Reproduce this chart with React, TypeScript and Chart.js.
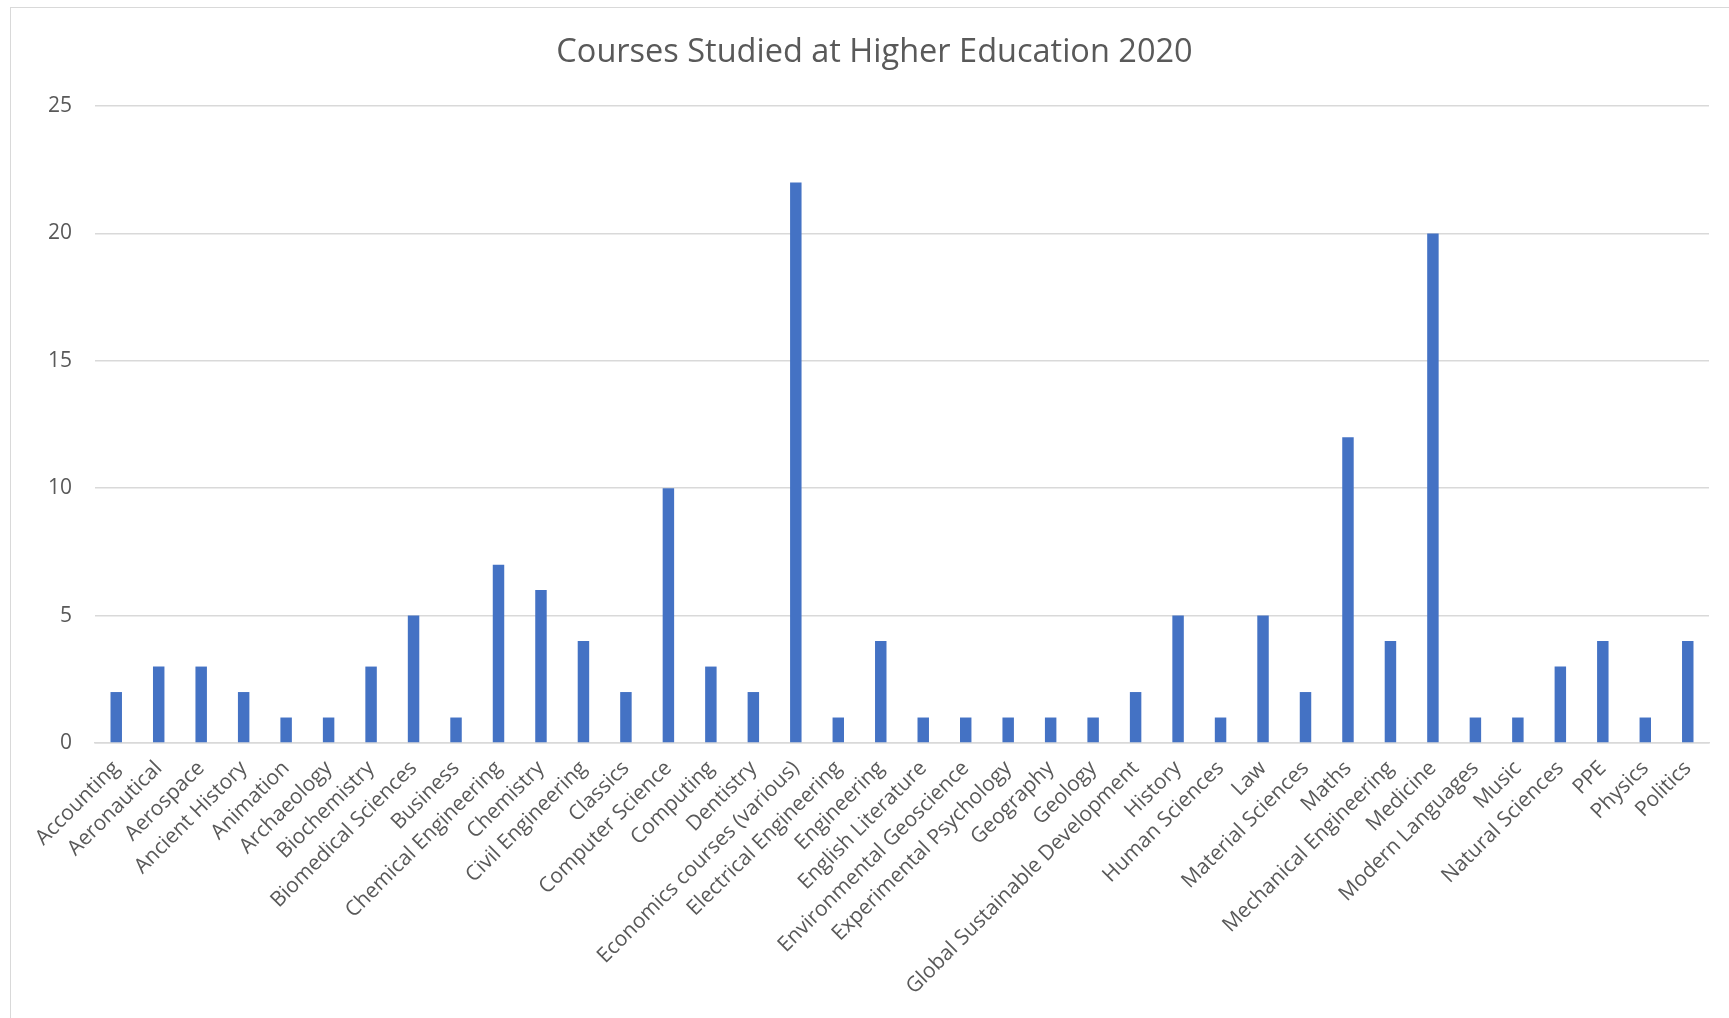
import React, { useEffect, useRef } from "react";
import { Chart, registerables } from "chart.js";

Chart.register(...registerables);

const categories: string[] = [
  "Accounting",
  "Aeronautical",
  "Aerospace",
  "Ancient History",
  "Animation",
  "Archaeology",
  "Biochemistry",
  "Biomedical Sciences",
  "Business",
  "Chemical Engineering",
  "Chemistry",
  "Civil Engineering",
  "Classics",
  "Computer Science",
  "Computing",
  "Dentistry",
  "Economics courses (various)",
  "Electrical Engineering",
  "Engineering",
  "English Literature",
  "Environmental Geoscience",
  "Experimental Psychology",
  "Geography",
  "Geology",
  "Global Sustainable Development",
  "History",
  "Human Sciences",
  "Law",
  "Material Sciences",
  "Maths",
  "Mechanical Engineering",
  "Medicine",
  "Modern Languages",
  "Music",
  "Natural Sciences",
  "PPE",
  "Physics",
  "Politics",
];

const counts: number[] = [
  2, 3, 3, 2, 1, 1, 3, 5, 1, 7, 6, 4, 2, 10, 3, 2, 22, 1, 4, 1, 1, 1, 1, 1, 2, 5,
  1, 5, 2, 12, 4, 20, 1, 1, 3, 4, 1, 4,
];

const titleText = "Courses Studied at Higher Education 2020";
const yMin = 0;
const yMax = 25;
const yStep = 5;

const W = 1729;
const H = 1018;

export default function App() {
  const ref = useRef<HTMLCanvasElement | null>(null);

  useEffect(() => {
    const canvas = ref.current;
    if (!canvas) return;
    const textColor = "#595959";
    const font = "'Open Sans', 'Noto Sans', sans-serif";
    const chart = new Chart(canvas, {
      type: "bar",
      data: {
        labels: categories,
        datasets: [
          {
            label: "Courses",
            data: counts,
            backgroundColor: "#4472C4",
            borderWidth: 0,
            barPercentage: 0.27,
            categoryPercentage: 1,
          },
        ],
      },
      options: {
        responsive: false,
        animation: false,
        devicePixelRatio: 1,
        layout: { padding: { left: 40, right: 20, top: 0, bottom: 0 } },
        plugins: {
          legend: { display: false },
          tooltip: { enabled: false },
          title: {
            display: true,
            text: titleText,
            color: textColor,
            font: { family: font, size: 32.5, weight: "normal", lineHeight: 1.2 },
            padding: { top: 33, bottom: 34 },
          },
        },
        scales: {
          x: {
            grid: { display: false, drawTicks: false },
            border: { display: true, color: "#d9d9d9", width: 1.5 },
            ticks: {
              color: textColor,
              font: { family: font, size: 21 },
              minRotation: 45,
              maxRotation: 45,
              autoSkip: false,
              padding: 13,
            },
            afterFit: (scale: any) => {
              scale.height = 275;
            },
          },
          y: {
            min: yMin,
            max: yMax,
            grid: { color: "#d9d9d9", lineWidth: 1.5, drawTicks: false },
            border: { display: false },
            ticks: {
              stepSize: yStep,
              color: textColor,
              font: { family: font, size: 21 },
              padding: 23,
            },
            afterFit: (scale: any) => {
              scale.width = 55;
            },
          },
        },
      },
    });
    return () => chart.destroy();
  }, []);

  return (
    <div
      style={{
        position: "fixed",
        left: 0,
        top: 0,
        width: W,
        height: H,
        overflow: "hidden",
        background: "#ffffff",
      }}
    >
      <div
        style={{
          position: "absolute",
          left: 10,
          top: 7,
          width: W + 100,
          height: H + 100,
          border: "1.5px solid #d9d9d9",
          boxSizing: "border-box",
        }}
      />
      <canvas
        ref={ref}
        width={W}
        height={H}
        style={{ position: "absolute", left: 0, top: 0, width: W, height: H }}
      />
    </div>
  );
}
